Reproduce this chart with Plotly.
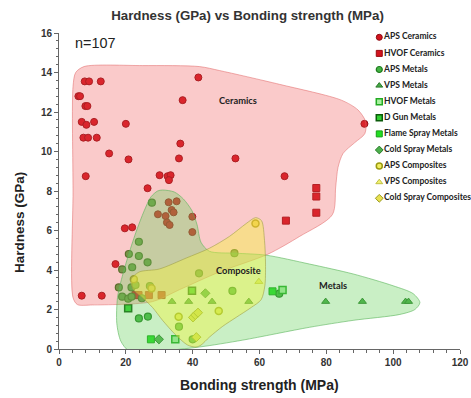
import plotly.graph_objects as go

# ---- measured points: bonding strength (MPa) vs hardness (GPa) ----
aps_ceramics_x = [7.7, 9.0, 12.5, 41.7, 5.8, 6.3, 7.9, 8.5, 37.0, 6.8, 8.2, 10.5, 20.0,
                  7.3, 8.7, 11.3, 36.3, 15.0, 20.8, 35.9, 52.8, 91.4, 8.0, 30.1, 32.5,
                  33.4, 32.9, 67.5, 26.5, 19.7, 21.9, 16.9, 6.8, 12.8,
                  32.8, 35.2, 29.6, 31.9, 33.7, 34.3, 39.9, 32.3, 33.1, 39.9]
aps_ceramics_y = [13.55, 13.55, 13.55, 13.75, 12.8, 12.8, 12.3, 12.3, 12.6, 11.5, 11.35, 11.5, 11.4,
                  10.7, 10.7, 10.7, 10.4, 9.9, 9.6, 9.65, 9.65, 11.4, 8.75, 8.8, 8.75,
                  8.8, 8.55, 8.75, 8.14, 6.11, 6.16, 4.3, 2.7, 2.7,
                  7.43, 7.48, 6.82, 6.73, 7.04, 6.92, 6.7, 6.41, 6.28, 5.92]

hvof_ceramics_x = [77.0, 77.0, 77.0, 67.9, 22.9, 23.8, 26.9, 30.7]
hvof_ceramics_y = [8.15, 7.72, 6.9, 6.5, 2.73, 2.73, 2.73, 2.73]

aps_metals_x = [27.8, 23.9, 20.9, 23.9, 26.5, 18.9, 21.9, 17.9, 21.7, 22.9, 27.2, 18.9,
                20.7, 21.7, 24.8, 41.9, 52.5, 51.9, 23.9, 26.6, 35.9, 40.0, 65.9]
aps_metals_y = [7.41, 5.43, 4.81, 4.71, 4.39, 4.03, 4.14, 3.12, 3.12, 3.24, 3.19, 2.65,
                2.55, 2.65, 2.57, 3.83, 4.85, 2.94, 1.55, 1.64, 1.13, 0.49, 2.8]

vps_metals_x = [33.8, 38.8, 45.8, 56.8, 79.8, 90.8, 103.7, 104.6]
vps_metals_y = [2.4, 2.4, 2.4, 2.4, 2.4, 2.4, 2.4, 2.4]

hvof_metals_x = [34.8, 66.9]
hvof_metals_y = [0.49, 2.99]

dgun_metals_x = [20.7, 39.8]
dgun_metals_y = [2.06, 2.95]

flame_metals_x = [27.5, 63.9]
flame_metals_y = [0.49, 2.92]

cold_metals_x = [29.9, 43.8]
cold_metals_y = [0.49, 2.82]

aps_comp_x = [22.4, 27.7, 35.8, 47.8, 58.8]
aps_comp_y = [3.53, 3.07, 1.63, 1.92, 6.36]

vps_comp_x = [59.8]
vps_comp_y = [3.41]

cold_comp_x = [40.1, 40.8, 41.6, 41.1]
cold_comp_y = [1.6, 1.72, 1.84, 0.6]

# ---- outlines of the material-class envelopes ----
ceramics_env_x = [4.2, 5.0, 7.5, 25, 42, 48, 66, 84.5, 89.5, 91.8, 91.5, 88.5, 85, 83.5,
                  82.8, 81.8, 72, 62.5, 48, 36, 28, 10, 5.5, 4.2, 4.2, 4.2]
ceramics_env_y = [13.3, 14.0, 14.3, 14.35, 14.3, 14.1, 13.4, 12.6, 12.1, 11.5, 10.9, 10.45, 9.9, 9.2,
                  8.2, 6.8, 5.7, 4.8, 3.9, 3.0, 2.4, 2.23, 2.25, 2.6, 8.0, 13.3]

metals_env_x = [31, 34.5, 37.2, 39.8, 41.3, 42.5, 45, 53, 62, 75, 88, 100, 106, 108, 106.5,
                102, 88, 75, 55, 42, 30, 21, 18.5, 17.3, 17.5, 18.5, 20.5, 23, 25.5, 27.5, 29.5, 31]
metals_env_y = [8.05, 7.95, 7.6, 7.0, 6.3, 5.4, 4.95, 4.85, 4.75, 4.3, 3.8, 3.2, 2.8, 2.35, 2.0,
                1.75, 1.45, 1.1, 0.45, 0.1, -0.1, -0.1, 0.4, 1.3, 2.6, 3.4, 4.6, 5.9, 7.0, 7.7, 8.0, 8.05]

composite_env_x = [21.5, 24, 30, 38, 45, 51, 56, 58.8, 60.6, 61.5, 61.8, 61.6, 60.5, 57.5,
                   53, 49, 45, 42.5, 41, 38.5, 35, 31, 28, 25, 22.3, 21.5]
composite_env_y = [3.5, 3.9, 4.05, 4.6, 5.1, 5.7, 6.35, 6.65, 6.5, 5.5, 4.3, 3.2, 2.5, 2.1,
                   1.6, 1.15, 0.6, 0.2, 0.1, 0.2, 0.7, 1.45, 2.1, 2.6, 3.0, 3.5]

region_names = ["Ceramics", "Composite", "Metals"]
region_label_x = [53.5, 53.8, 82.0]
region_label_y = [12.6, 4.0, 3.24]

series = [
    ("APS Ceramics", aps_ceramics_x, aps_ceramics_y,
     dict(symbol="circle", color="#d2141e", line=dict(color="#8e0a10", width=1))),
    ("HVOF Ceramics", hvof_ceramics_x, hvof_ceramics_y,
     dict(symbol="square", color="#d2141e", line=dict(color="#9a0a10", width=1))),
    ("APS Metals", aps_metals_x, aps_metals_y,
     dict(symbol="circle", color="#44b444", line=dict(color="#1e7a1e", width=1.2))),
    ("VPS Metals", vps_metals_x, vps_metals_y,
     dict(symbol="triangle-up", color="#46a846", line=dict(color="#2a7a2a", width=1))),
    ("HVOF Metals", hvof_metals_x, hvof_metals_y,
     dict(symbol="square", color="#a8f0a0", line=dict(color="#22aa22", width=1.5))),
    ("D Gun Metals", dgun_metals_x, dgun_metals_y,
     dict(symbol="square", color="#30d030", line=dict(color="#0a5a0a", width=1.5))),
    ("Flame Spray Metals", flame_metals_x, flame_metals_y,
     dict(symbol="square", color="#22dd22", line=dict(color="#16a016", width=1))),
    ("Cold Spray Metals", cold_metals_x, cold_metals_y,
     dict(symbol="diamond", color="#4cb04c", line=dict(color="#2a7a2a", width=1))),
    ("APS Composites", aps_comp_x, aps_comp_y,
     dict(symbol="circle", color="#f2ee60", line=dict(color="#9a9a10", width=1.5))),
    ("VPS Composites", vps_comp_x, vps_comp_y,
     dict(symbol="triangle-up", color="#f0f070", line=dict(color="#c0c040", width=1))),
    ("Cold Spray Composites", cold_comp_x, cold_comp_y,
     dict(symbol="diamond", color="#e8e050", line=dict(color="#9a9a20", width=1))),
]

fig = go.Figure()

# data points first; the translucent envelopes are laid over them
for name, xs, ys, mk in series:
    fig.add_trace(go.Scatter(x=xs, y=ys, mode="markers", name=name, showlegend=False,
                             marker=dict(size=7, **mk)))

envelopes = [
    (ceramics_env_x, ceramics_env_y, "rgba(240,80,80,0.30)", "rgba(225,110,110,0.55)"),
    (metals_env_x, metals_env_y, "rgba(100,210,90,0.35)", "rgba(90,180,90,0.6)"),
    (composite_env_x, composite_env_y, "rgba(245,245,60,0.42)", "rgba(160,160,70,0.6)"),
]
for ex, ey, fillc, linec in envelopes:
    fig.add_trace(go.Scatter(x=ex, y=ey, mode="lines", fill="toself", fillcolor=fillc,
                             line=dict(color=linec, width=1, shape="spline", smoothing=0.8),
                             hoverinfo="skip", showlegend=False))

for txt, lx, ly in zip(region_names, region_label_x, region_label_y):
    fig.add_annotation(x=lx, y=ly, text=txt, showarrow=False,
                       font=dict(family="Lato", size=9.3, color="#222", weight="bold"))

fig.add_annotation(x=4.1, y=15.5, xanchor="left", text="n=107", showarrow=False,
                   font=dict(family="Liberation Sans", size=14.4, color="#222"))

# key drawn on a small overlay axis at the upper right
for i, (name, xs, ys, mk) in enumerate(series):
    fig.add_trace(go.Scatter(x=[0], y=[-i], mode="markers+text", text=[name],
                             textposition="middle right", cliponaxis=False,
                             textfont=dict(family="Lato", size=8.5, color="#222", weight="bold"),
                             marker=dict(size=6, **mk), xaxis="x2", yaxis="y2",
                             hoverinfo="skip", showlegend=False))

tick_font = dict(family="Liberation Sans", size=10, color="#333", weight="bold")
title_font = dict(family="Liberation Sans", size=14, color="#222", weight="bold")

# axis titles
fig.add_annotation(xref="paper", yref="paper", x=0.4988, y=-0.114, text="Bonding strength (MPa)",
                   showarrow=False, font=title_font, yanchor="middle")
fig.add_annotation(xref="paper", yref="paper", x=-0.0973, y=0.402, text="Hardness (GPa)",
                   textangle=-90, showarrow=False, xanchor="center", yanchor="middle",
                   font=dict(family="Liberation Sans", size=13.5, color="#222", weight="bold"))

fig.update_layout(
    width=471, height=398,
    margin=dict(l=59, r=11, t=33, b=49),
    paper_bgcolor="white", plot_bgcolor="white",
    title=dict(text="Hardness (GPa) vs Bonding strength (MPa)", x=0.5255, xanchor="center",
               y=0.962, yanchor="middle",
               font=dict(family="Liberation Sans", size=13.3, color="#333", weight="bold")),
    xaxis=dict(range=[0, 120], dtick=20, showgrid=False, zeroline=False, showline=True,
               linecolor="#666", linewidth=1, ticks="outside", ticklen=4, tickcolor="#666",
               minor=dict(dtick=4, ticks="outside", ticklen=2.5, tickcolor="#666"),
               tickfont=tick_font, automargin=False),
    yaxis=dict(range=[0, 16], dtick=2, showgrid=False, zeroline=False, showline=True,
               linecolor="#666", linewidth=1, ticks="outside", ticklen=4, tickcolor="#666",
               minor=dict(dtick=0.4, ticks="outside", ticklen=2.5, tickcolor="#666"),
               tickfont=tick_font, automargin=False),
    xaxis2=dict(domain=[0.78, 1.0], range=[-0.085, 0.915], visible=False, anchor="y2",
                fixedrange=True),
    yaxis2=dict(domain=[0.45, 1.0], range=[-10.528, 0.267], visible=False, anchor="x2",
                fixedrange=True),
)

fig.write_html("out.html")
